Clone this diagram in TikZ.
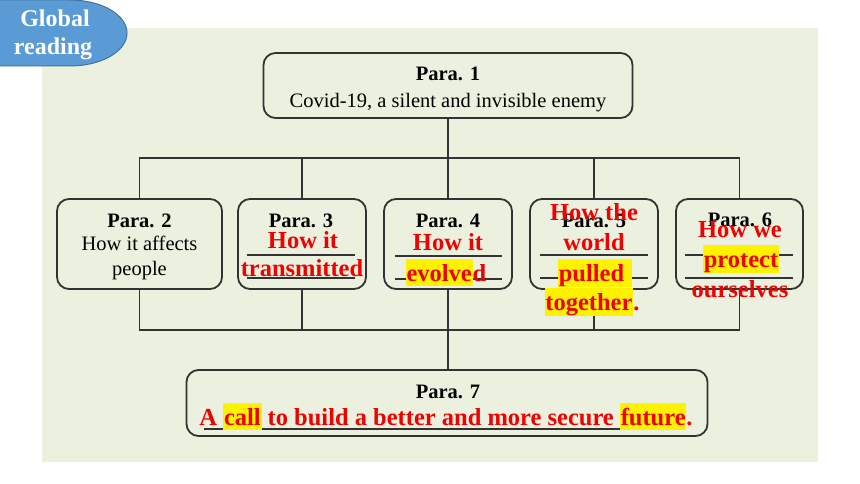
\documentclass[tikz,border=0pt]{standalone}
\usepackage{fontspec}
\setmainfont{Liberation Serif}
\usepackage{xcolor}
\definecolor{bgg}{HTML}{EBF1DE}
\definecolor{tabblue}{HTML}{5B9BD5}
\definecolor{tabedge}{HTML}{41719C}
\definecolor{lineg}{HTML}{333333}
\definecolor{hired}{HTML}{F00000}
\newcommand{\blk}{\fontsize{20.5}{24}\selectfont}
\newcommand{\rd}{\fontsize{24.5}{28}\selectfont\bfseries\color{hired}}
\newcommand{\hlw}[1]{{\setlength{\fboxsep}{0.8pt}\colorbox{yellow}{\rule[-4.5pt]{0pt}{26pt}#1}}}
\tikzset{
  parabox/.style={draw=lineg, line width=1.8pt, rounded corners=12pt, fill=bgg, inner sep=0pt},
  conn/.style={draw=lineg, line width=1.8pt},
  blank/.style={draw=lineg, line width=1.1pt},
  tx/.style={anchor=base, inner sep=0pt, outer sep=0pt, text=black}
}
\begin{document}
\begin{tikzpicture}[x=1pt,y=-1pt]
\useasboundingbox (0,0) rectangle (860,484);
\fill[white] (0,0) rectangle (860,484);
\fill[bgg] (42,28) rectangle (818,462);
% Global reading tab
\draw[fill=tabblue, draw=tabedge, line width=1pt] (-2,0) -- (70,0) .. controls (101.5,0) and (127,14.8) .. (127,33) .. controls (127,51.2) and (101.5,66) .. (70,66) -- (-2,66) -- cycle;
\node[tx, text=white] (g1) at (55,27) {\fontsize{24}{28}\selectfont\bfseries Global};
\node[tx, text=white] (g2) at (53,55) {\fontsize{24}{28}\selectfont\bfseries reading};
% boxes
\node[parabox, minimum width=369pt, minimum height=65pt] (p1) at (448,85.5) {};
\node[parabox, minimum width=165pt, minimum height=90pt] (p2) at (139.5,244) {};
\node[parabox, minimum width=128pt, minimum height=90pt] (p3) at (302,244) {};
\node[parabox, minimum width=128pt, minimum height=90pt] (p4) at (448,244) {};
\node[parabox, minimum width=128pt, minimum height=90pt] (p5) at (594,244) {};
\node[parabox, minimum width=127pt, minimum height=90pt] (p6) at (739.5,244) {};
\node[parabox, minimum width=521pt, minimum height=66pt] (p7) at (447,403) {};
% connectors
\coordinate (t) at (448,158);
\coordinate (b) at (448,330);
\draw[conn] (p1.south) -- (p1.south |- t);
\draw[conn] (p2.north) -- (p2.north |- t) -- (p6.north |- t) -- (p6.north);
\draw[conn] (p3.north) -- (p3.north |- t);
\draw[conn] (p4.north) -- (p4.north |- t);
\draw[conn] (p5.north) -- (p5.north |- t);
\draw[conn] (p2.south) -- (p2.south |- b) -- (p6.south |- b) -- (p6.south);
\draw[conn] (p3.south) -- (p3.south |- b);
\draw[conn] (p4.south) -- (p4.south |- b);
\draw[conn] (p5.south) -- (p5.south |- b);
\draw[conn] (b) -- (b |- p7.north);
% blank lines
\coordinate (l3a) at (247,255); \coordinate (l3b) at (355,255);
\coordinate (l3c) at (247,278); \coordinate (l3d) at (355,278);
\draw[blank] (l3a) -- (l3b); \draw[blank] (l3c) -- (l3d);
\coordinate (l4a) at (395,256); \coordinate (l4b) at (502,256);
\coordinate (l4c) at (395,279); \coordinate (l4d) at (502,279);
\draw[blank] (l4a) -- (l4b); \draw[blank] (l4c) -- (l4d);
\coordinate (l5a) at (540,255); \coordinate (l5b) at (648,255);
\coordinate (l5c) at (540,278); \coordinate (l5d) at (648,278);
\draw[blank] (l5a) -- (l5b); \draw[blank] (l5c) -- (l5d);
\coordinate (l6a) at (685,255); \coordinate (l6b) at (793,255);
\coordinate (l6c) at (685,278); \coordinate (l6d) at (793,278);
\draw[blank] (l6a) -- (l6b); \draw[blank] (l6c) -- (l6d);
\coordinate (l7a) at (204,429); \coordinate (l7b) at (625,429);
\draw[blank] (l7a) -- (l7b);
% texts
\node[tx] (t1a) at (448,81) {\blk\bfseries Para. 1};
\node[tx] (t1b) at (448,108) {\blk Covid-19, a silent and invisible enemy};
\node[tx] (t2a) at (139.5,227) {\blk\bfseries Para. 2};
\node[tx] (t2b) at (139.5,251) {\blk How it affects};
\node[tx] (t2c) at (139.5,275) {\blk people};
\node[tx] (t3a) at (301,227) {\blk\bfseries Para. 3};
\node[tx] (t3b) at (303,248) {\rd How it};
\node[tx] (t3c) at (302,276) {\rd transmitted};
\node[tx] (t4a) at (448,227) {\blk\bfseries Para. 4};
\node[tx] (t4b) at (448,250) {\rd How it};
\node[tx] (t4c) at (446,281) {\rd \hlw{evolve}d};
\node[tx] (t5a) at (594,227) {\blk\bfseries Para. 5};
\node[tx] (t5b) at (594,221) {\rd How the};
\node[tx] (t5c) at (594,250) {\rd world};
\node[tx] (t5d) at (595,281) {\rd \hlw{pulled\hspace{7pt}}};
\node[tx] (t5e) at (592,310) {\rd \hlw{together}.};
\node[tx] (t6a) at (740,226) {\blk\bfseries Para. 6};
\node[tx] (t6b) at (740,237) {\rd How we};
\node[tx] (t6c) at (741,267) {\rd \hlw{protect}};
\node[tx] (t6d) at (740,297) {\rd ourselves};
\node[tx] (t7a) at (448,398) {\blk\bfseries Para. 7};
\node[tx] (t7b) at (446,425) {\rd A \hlw{call} to build a better and more secure \hlw{future}.};
\end{tikzpicture}
\end{document}
